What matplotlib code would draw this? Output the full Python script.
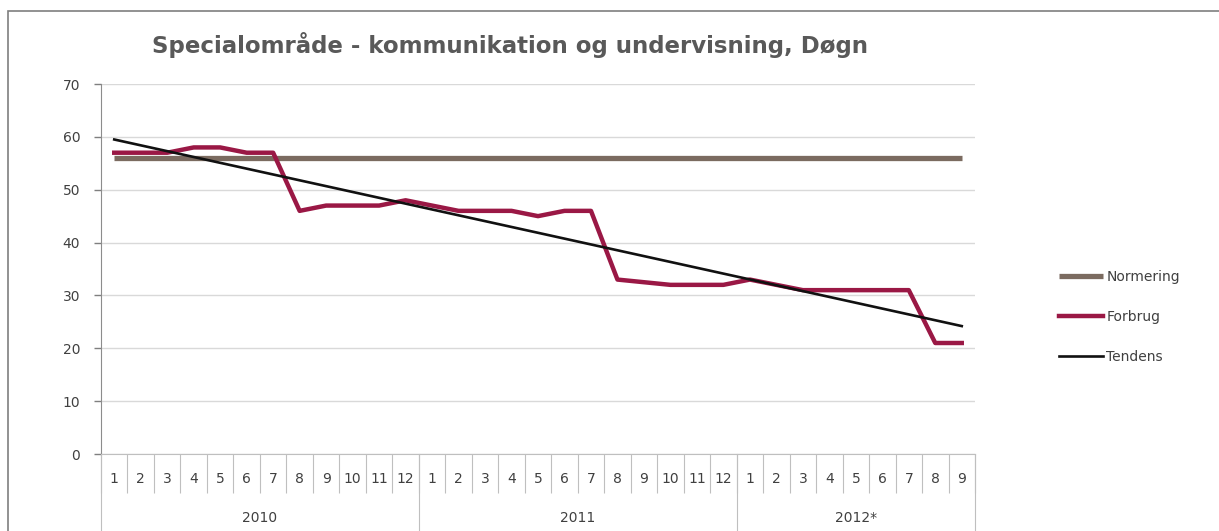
import numpy as np
import matplotlib
matplotlib.use("Agg")
import matplotlib.pyplot as plt
import matplotlib.transforms as mtransforms
from matplotlib.patches import Rectangle

# data
months = [1, 2, 3, 4, 5, 6, 7, 8, 9, 10, 11, 12,
          1, 2, 3, 4, 5, 6, 7, 8, 9, 10, 11, 12,
          1, 2, 3, 4, 5, 6, 7, 8, 9]
years = ["2010", "2011", "2012*"]
months_per_year = [12, 12, 9]

normering = [56] * 33
forbrug = [57, 57, 57, 58, 58, 57, 57, 46, 47, 47, 47, 48,
           47, 46, 46, 46, 45, 46, 46, 33, 32.5, 32, 32, 32,
           33, 32, 31, 31, 31, 31, 31, 21, 21]
tendens_ends = [59.5, 24.2]   # Excel trendline, first and last point

yticks = [0, 10, 20, 30, 40, 50, 60, 70]

plt.rcParams['font.family'] = ['DejaVu Sans']
txt_col = '#404040'

fig = plt.figure(figsize=(12.19, 5.31), dpi=100)
ax = fig.add_axes([101/1219, 77/531, (975-101)/1219, (454-84)/531])

x = np.arange(len(months))
ax.plot(x, normering, color='#7b6b60', lw=3.8, solid_capstyle='butt', label='Normering', zorder=3)
ax.plot(x, forbrug, color='#9a1845', lw=3.2, solid_joinstyle='round', label='Forbrug', zorder=4)
ax.plot([x[0], x[-1]], tendens_ends, color='#111111', lw=1.9, label='Tendens', zorder=5)

ax.set_xlim(-0.5, len(months) - 0.5)
ax.set_ylim(0, 70)
ax.set_yticks(yticks)
ax.tick_params(axis='y', labelsize=10, colors='#7f7f7f', labelcolor=txt_col, length=5, width=1, pad=10)
ax.yaxis.grid(True, color='#d9d9d9', lw=1)
ax.set_axisbelow(True)

# category axis: month ticks at boundaries, labels underneath
ax.set_xticks(np.arange(-0.5, len(months), 1.0))
ax.set_xticklabels([])
ax.tick_params(axis='x', length=28, width=0.8, colors='#bfbfbf')
trans = mtransforms.blended_transform_factory(ax.transData, ax.transAxes)
for xi, m in zip(x, months):
    ax.text(xi, -25/370, str(m), transform=trans, ha='center', va='center',
            fontsize=10, color=txt_col)

# year groups
start = 0
bounds = [-0.5]
for yr, n in zip(years, months_per_year):
    mid = start + (n - 1) / 2
    ax.text(mid, -64/370, yr, transform=trans, ha='center', va='center',
            fontsize=10, color=txt_col)
    start += n
    bounds.append(start - 0.5)
for b in bounds:
    ax.plot([b, b], [0, -0.3], transform=trans, color='#bfbfbf', lw=0.8, clip_on=False)

for side in ['top', 'right']:
    ax.spines[side].set_visible(False)
ax.spines['left'].set_color('#8c8c8c')
ax.spines['bottom'].set_color('#bfbfbf')

fig.text(510/1219, 1 - 45/531, 'Specialområde - kommunikation og undervisning, Døgn',
         ha='center', va='center', fontsize=16.5, fontweight='bold', color='#595959')

fig.legend(loc='center left', bbox_to_anchor=(1052/1219, 1 - 317/531), frameon=False,
           fontsize=10, handlelength=3.2, handletextpad=0.2, labelspacing=1.85,
           labelcolor=txt_col, borderpad=0)

# outer chart frame
fig.add_artist(Rectangle((8/1219, -0.2), 2, 1.2 - 11/531, transform=fig.transFigure,
                         fill=False, edgecolor='#7f7f7f', lw=1.2))

fig.savefig('out.png', dpi=100)
